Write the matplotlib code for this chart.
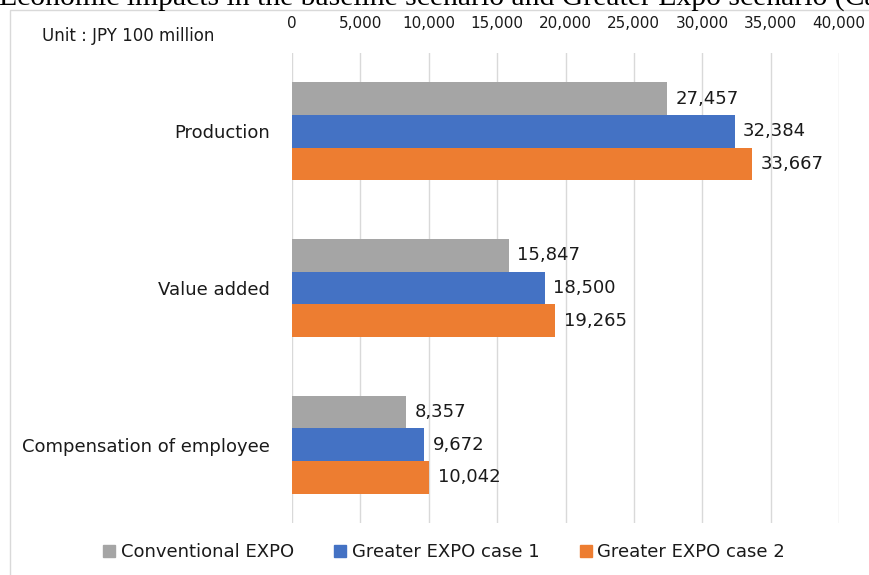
import matplotlib.pyplot as plt
from matplotlib.lines import Line2D
from matplotlib.patches import Rectangle

categories = ["Production", "Value added", "Compensation of employee"]
series_names = ["Conventional EXPO", "Greater EXPO case 1", "Greater EXPO case 2"]
conventional = [27457, 15847, 8357]
greater_case1 = [32384, 18500, 9672]
greater_case2 = [33667, 19265, 10042]
x_ticks = [0, 5000, 10000, 15000, 20000, 25000, 30000, 35000, 40000]


def main():
    # define the plot size
    width = 869
    height = 575
    ppi = 100
    fig = plt.figure(figsize=(width / ppi, height / ppi), dpi=ppi)
    plt.rcParams['font.family'] = ['DejaVu Sans']

    # define colors
    gray = '#A5A5A5'
    blue = '#4472C4'
    orange = '#ED7D31'
    grid = '#D9D9D9'
    text = '#1A1A1A'
    colors = [gray, blue, orange]

    # chart frame (cut off at the right and bottom like the screenshot)
    fig.patches.append(Rectangle((10 / width, -0.1), 1.2, 1.1 - 10 / height,
                                 transform=fig.transFigure, fill=False,
                                 edgecolor=grid, linewidth=1))

    # cut-off caption above the chart
    fig.text(-1 / width, 1 - 5 / height,
             "Economic impacts in the baseline scenario and Greater Expo scenario (Case",
             family='Liberation Serif', fontsize=21.3, va='baseline', ha='left',
             color='black')

    ax = fig.add_axes([292 / width, 1 - 523 / height, 547 / width, 470 / height])

    bar_h = 0.208
    values = [conventional, greater_case1, greater_case2]
    for k, (vals, col) in enumerate(zip(values, colors)):
        pos = [i + (k - 1) * bar_h for i in range(len(categories))]
        ax.barh(pos, vals, height=bar_h, color=col, zorder=3)
        for p, v in zip(pos, vals):
            ax.annotate(f"{v:,}", (v, p), xytext=(6, 0), textcoords='offset points',
                        va='center', ha='left', fontsize=13, color=text)

    ax.set_xlim(0, 40000)
    ax.set_ylim(len(categories) - 0.5, -0.5)
    ax.set_xticks(x_ticks)
    ax.set_xticklabels([f"{t:,}" for t in x_ticks])
    ax.xaxis.tick_top()
    ax.tick_params(axis='x', length=0, pad=16, labelsize=11, labelcolor=text)
    ax.set_yticks(range(len(categories)))
    ax.set_yticklabels(categories)
    ax.tick_params(axis='y', length=0, pad=16, labelsize=13, labelcolor=text)
    ax.grid(axis='x', color=grid, linewidth=1, zorder=0)
    for s in ax.spines.values():
        s.set_visible(False)

    fig.text(42 / width, 1 - 36 / height, "Unit : JPY 100 million",
             fontsize=12, va='center', ha='left', color=text)

    handles = [Line2D([], [], linestyle='none', marker='s', markersize=8.6,
                      markerfacecolor=c, markeredgecolor=c) for c in colors]
    fig.legend(handles, series_names, loc='center', ncol=3, frameon=False,
               bbox_to_anchor=(444 / width, 1 - 552 / height), fontsize=13,
               handlelength=0.7, handletextpad=0.3, columnspacing=2.2,
               labelcolor=text)

    plt.savefig("out.png", dpi=ppi)


if __name__ == "__main__":
    main()
